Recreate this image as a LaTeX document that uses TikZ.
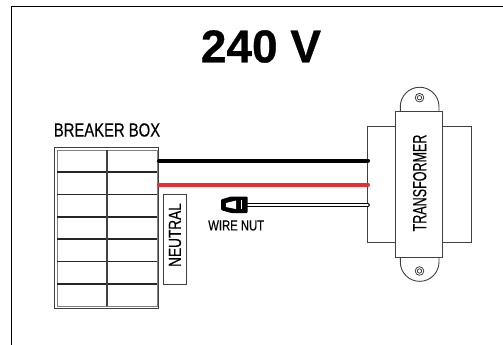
\documentclass[tikz,border=0pt]{standalone}
\usepackage{fontspec}
\setmainfont{Liberation Sans}
\newfontfamily\condfont[FakeStretch=0.78,FakeBold=0.35]{Liberation Sans}
\newfontfamily\narrowfont[FakeStretch=0.66,FakeBold=0.35]{Liberation Sans}
\newfontfamily\titlefont[FakeBold=0.6]{Liberation Sans Bold}
\definecolor{wirered}{HTML}{EE2A2E}
\definecolor{linegray}{HTML}{404040}
\tikzset{
  px/.style={x=1pt,y=-1pt},
  frameline/.style={draw=black,line width=1.2pt},
  thin box/.style={draw=linegray,line width=1pt,fill=white},
  hole/.style={draw=linegray,line width=0.8pt,fill=white},
  label/.style={inner sep=0pt,text=black},
  hot/.style={line width=4pt,line cap=round},
}
\begin{document}
\begin{tikzpicture}[px]
\useasboundingbox (0,0) rectangle (503,345);
\fill[white] (0,0) rectangle (503,345);
% frame
\coordinate (fa) at (11.5,345);
\coordinate (fb) at (11.5,6.5);
\coordinate (fc) at (503,6.5);
\draw[frameline] (fa) -- (fb) -- (fc);
\node[inner sep=0pt,font=\titlefont\fontsize{46}{46}\selectfont] (title) at (261,46.5) {240 V};
% breaker box
\node[label,font=\condfont\fontsize{19}{19}\selectfont] (bbl) at (107,130) {BREAKER BOX};
\draw[draw=linegray,line width=1.3pt] (54.8,147.8) rectangle (158.6,308.2);
\draw[draw=gray,line width=0.8pt] (57,150) rectangle (157,306);
\foreach \y in {172,194.5,217,239,261.5,284} \draw[black!85,line width=1.5pt] (57,\y) -- (157,\y);
\draw[linegray,line width=1.6pt] (107,150) -- (107,306);
\node[thin box,minimum width=23pt,minimum height=89.5pt,inner sep=0pt] (neutralbox) at (174.8,239.4) {};
\node[label,rotate=90,font=\condfont\fontsize{17.5}{17.5}\selectfont] (neutral) at (175,235) {NEUTRAL};
% transformer
\draw[draw=linegray,line width=0.9pt,fill=white] (400.3,112) -- (400.3,106.6) arc[start angle=180,end angle=360,radius=19.35] -- (439,112);
\draw[draw=linegray,line width=0.9pt,fill=white] (400.3,257) -- (400.3,262) arc[start angle=180,end angle=0,radius=19.35] -- (439,257);
\foreach \y in {97.7,271} {\draw[hole] (419.5,\y) circle[radius=4.3]; \draw[hole] (419.5,\y) circle[radius=2.2];}
\node[thin box,minimum width=103.3pt,minimum height=115.6pt,inner sep=0pt] (coil) at (419.4,184.5) {};
\node[thin box,minimum width=47pt,minimum height=146.4pt,inner sep=0pt] (core) at (419.2,184.5) {};
\node[label,rotate=90,font=\narrowfont\fontsize{19}{19}\selectfont] (tr) at (419.7,183) {TRANSFORMER};
% wires
\coordinate (bs) at (159,160.5);
\coordinate (be) at (368,160.5);
\coordinate (rs) at (159,184.5);
\coordinate (re) at (368,184.5);
\coordinate (ws) at (246,205);
\coordinate (we) at (368,205);
\draw[hot,black] (bs) -- (be);
\draw[hot,wirered] (rs) -- (re);
\draw[black,line width=3.6pt,line cap=round] (ws) -- (we);
\draw[white,line width=1.3pt,line cap=round] (ws) -- (we);
% wire nut
\fill[black,rounded corners=1pt] (221,199.5) -- (231,196.5) -- (247.5,196.5) -- (247.5,213) -- (231,213) -- (221,210) -- cycle;
\fill[white] (226,203) -- (236,200.5) -- (236,209) -- (226,207) -- cycle;
\fill[white] (240.5,200) rectangle (242,209);
\node[label,font=\condfont\fontsize{14.5}{14.5}\selectfont] (nutl) at (236.2,225.5) {WIRE NUT};
\end{tikzpicture}
\end{document}
